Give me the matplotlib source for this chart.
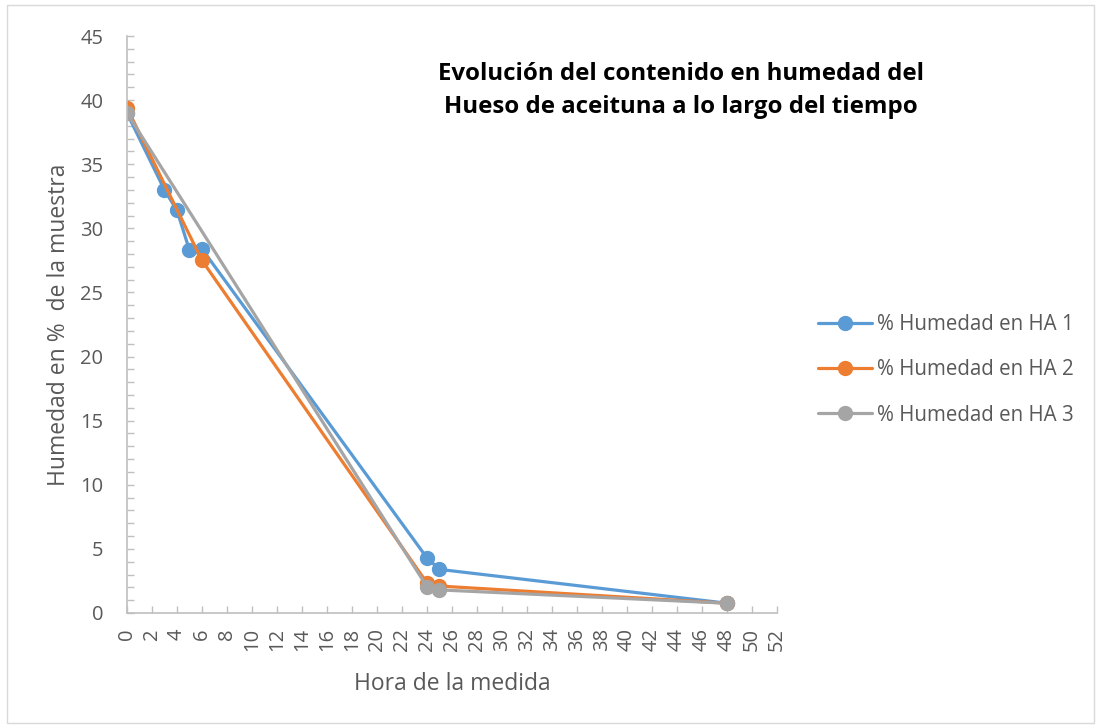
import matplotlib

matplotlib.use("Agg")
import matplotlib.pyplot as plt
from matplotlib.patches import Rectangle
from matplotlib.ticker import MultipleLocator

plt.rcParams["font.family"] = ["Open Sans", "DejaVu Sans"]

# horas de medida y % de humedad de cada muestra de hueso de aceituna
hours_ha1 = [0, 3, 4, 5, 6, 24, 25, 48]
hum_ha1 = [39.0, 33.0, 31.4, 28.3, 28.4, 4.3, 3.4, 0.76]
hours_ha2 = [0, 6, 24, 25, 48]
hum_ha2 = [39.4, 27.5, 2.35, 2.1, 0.76]
hours_ha3 = [0, 24, 25, 48]
hum_ha3 = [39.0, 2.05, 1.8, 0.76]

series = [
    ("% Humedad en HA 1", hours_ha1, hum_ha1, "#5B9BD5"),
    ("% Humedad en HA 2", hours_ha2, hum_ha2, "#ED7D31"),
    ("% Humedad en HA 3", hours_ha3, hum_ha3, "#A5A5A5"),
]
title_lines = ["Evolución del contenido en humedad del", "Hueso de aceituna a lo largo del tiempo"]

text_color = "#595959"
axis_color = "#BFBFBF"

fig = plt.figure(figsize=(11.01, 7.28), dpi=100)
ax = fig.add_axes([0.1153, 0.158, 0.5904, 0.7925])

for label, x, y, color in series:
    ax.plot(x, y, color=color, lw=2.3, marker="o", ms=10, label=label, solid_capstyle="round")

ax.set_xlim(0, 52)
ax.set_ylim(0, 45)
ax.xaxis.set_major_locator(MultipleLocator(2))
ax.yaxis.set_major_locator(MultipleLocator(5))
ax.yaxis.set_minor_locator(MultipleLocator(1))
ax.tick_params(axis="both", which="both", direction="in", color=axis_color, length=5, width=1,
               labelcolor=text_color, labelsize=14.5)
ax.tick_params(axis="x", labelrotation=90, pad=11)
ax.tick_params(axis="y", pad=17)
for side in ("top", "right"):
    ax.spines[side].set_visible(False)
for side in ("left", "bottom"):
    ax.spines[side].set_color(axis_color)
    ax.spines[side].set_linewidth(1.2)

ax.set_xlabel("Hora de la medida", color=text_color, fontsize=16.5)
ax.set_ylabel("Humedad en %  de la muestra", color=text_color, fontsize=16.5)
ax.xaxis.label.set_va("baseline")
ax.yaxis.label.set_va("baseline")
ax.xaxis.set_label_coords(0.5, -0.1335)
ax.yaxis.set_label_coords(-0.0954, 0.5)

for line, y in zip(title_lines, (0.890, 0.845)):
    fig.text(0.6185, y, line, ha="center", va="baseline", fontsize=17.3, fontweight="bold", color="black")

fig.legend(loc="center left", bbox_to_anchor=(0.7266, 0.4918), frameon=False, fontsize=14.8,
           labelcolor=text_color, handlelength=2.6, handletextpad=0.25, labelspacing=1.17)

fig.patches.append(Rectangle((0.006, 0.007), 0.988, 0.986, transform=fig.transFigure,
                             fill=False, edgecolor="#D9D9D9", lw=1))

fig.savefig("out.png", dpi=100)
